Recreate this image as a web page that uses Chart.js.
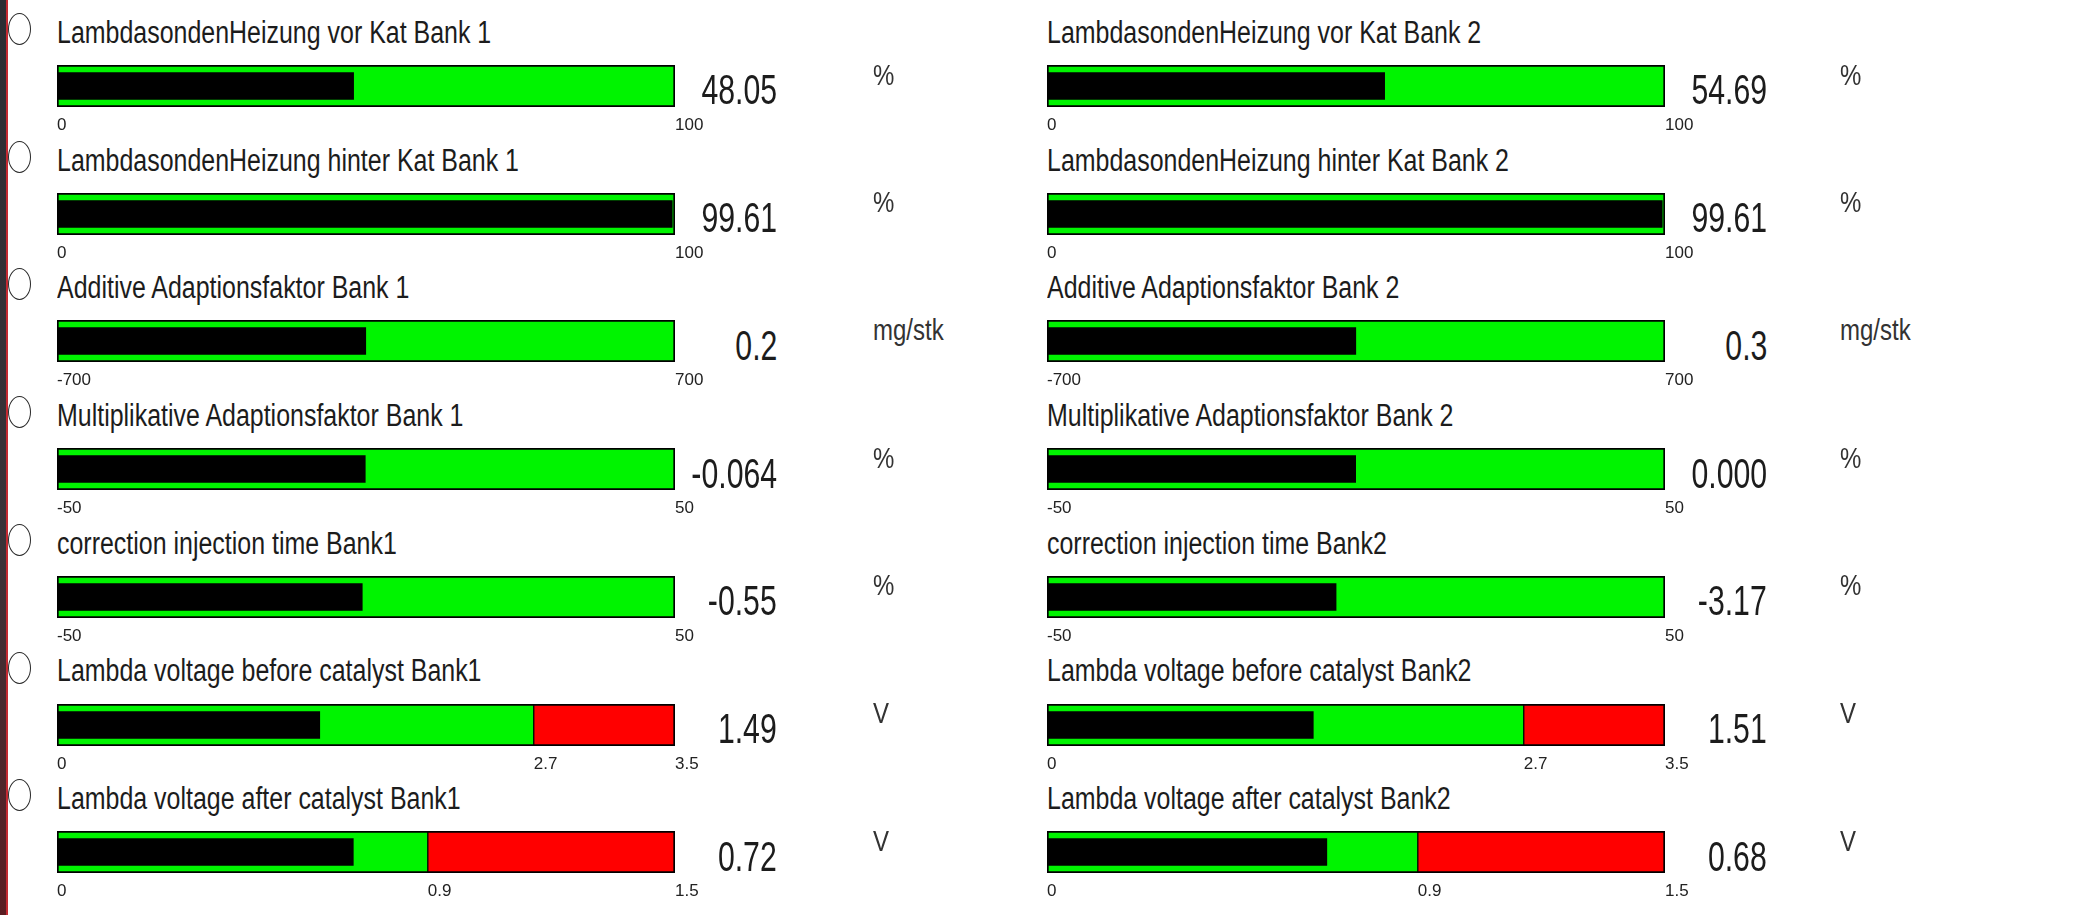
<!DOCTYPE html>
<html>
<head>
<meta charset="utf-8">
<script src="https://cdn.jsdelivr.net/npm/chart.js@4.4.1/dist/chart.umd.min.js"></script>
<style>
    body { margin: 0; width: 2091px; height: 915px; background: #fff; overflow: hidden; position: relative; font-family: "Liberation Sans", Arial, sans-serif; color: #1c1c1c; }
    .edge { position: absolute; left: 0; top: 0; width: 6px; height: 915px; background: linear-gradient(#2b2d33, #3a3238 60%, #5b1d22); }
    .edge-line { position: absolute; left: 6px; top: 0; width: 2px; height: 915px; background: #c32a32; }
    .radio { position: absolute; width: 21px; height: 30px; border: 1.5px solid #2a2a2a; border-radius: 50%; }
    .title, .value, .unit { position: absolute; white-space: nowrap; line-height: 1; z-index: 2; }
    .title { font-size: 31px; transform: scaleX(0.805); transform-origin: left center; }
    .value { font-size: 42px; transform: scaleX(0.72); transform-origin: right center; }
    .unit { font-size: 30px; color: #333; transform: scaleX(0.8); transform-origin: left center; }
    canvas { position: absolute; z-index: 1; }
</style>
</head>
<body>
<div class="edge"></div>
<div class="edge-line"></div>
<script>
const titlesBank1 = [
    "LambdasondenHeizung vor Kat Bank 1",
    "LambdasondenHeizung hinter Kat Bank 1",
    "Additive Adaptionsfaktor Bank 1",
    "Multiplikative Adaptionsfaktor Bank 1",
    "correction injection time Bank1",
    "Lambda voltage before catalyst Bank1",
    "Lambda voltage after catalyst Bank1"
];
const titlesBank2 = [
    "LambdasondenHeizung vor Kat Bank 2",
    "LambdasondenHeizung hinter Kat Bank 2",
    "Additive Adaptionsfaktor Bank 2",
    "Multiplikative Adaptionsfaktor Bank 2",
    "correction injection time Bank2",
    "Lambda voltage before catalyst Bank2",
    "Lambda voltage after catalyst Bank2"
];
const units = ["%", "%", "mg/stk", "%", "%", "V", "V"];
const scaleMin = [0, 0, -700, -50, -50, 0, 0];
const scaleMax = [100, 100, 700, 50, 50, 3.5, 1.5];
const warnFrom = [null, null, null, null, null, 2.7, 0.9];
const valuesBank1 = [48.05, 99.61, 0.2, -0.064, -0.55, 1.49, 0.72];
const valuesBank2 = [54.69, 99.61, 0.3, 0.000, -3.17, 1.51, 0.68];
const decimals = [2, 2, 1, 3, 2, 2, 2];

const FONT = '"Liberation Sans", Arial, sans-serif';
const ROW_PITCH = 127.7;
const BAR_W = 618, BAR_H = 42, TICK_H = 32, LABEL_ROOM = 45;
const GREEN = "#00f400", RED = "#ff0000";

const columns = [
    { left: 57, titles: titlesBank1, values: valuesBank1, valueRight: 777, unitLeft: 873, radio: true },
    { left: 1047, titles: titlesBank2, values: valuesBank2, valueRight: 1767, unitLeft: 1840, radio: false }
];

function addText(cls, text, css) {
    const el = document.createElement("div");
    el.className = cls;
    el.textContent = text;
    Object.assign(el.style, css);
    document.body.appendChild(el);
    return el;
}

function gauge(canvas, row, value) {
    const min = scaleMin[row], max = scaleMax[row], warn = warnFrom[row];
    const tickVals = warn === null ? [min, max] : [min, warn, max];
    const common = { categoryPercentage: 1, grouped: false, borderSkipped: false };
    const datasets = [
        { ...common, data: [[min, value]], backgroundColor: "#000", borderWidth: 0, barPercentage: 0.66, order: 0 },
        { ...common, data: [[min, warn ?? max]], backgroundColor: GREEN, borderColor: "#000",
          borderWidth: { left: 2, top: 2, bottom: 2, right: warn === null ? 2 : 1 }, barPercentage: 1, order: 1 }
    ];
    if (warn !== null) {
        datasets.push({ ...common, data: [[warn, max]], backgroundColor: RED, borderColor: "#000",
            borderWidth: { left: 1, top: 2, bottom: 2, right: 2 }, barPercentage: 1, order: 1 });
    }
    return new Chart(canvas, {
        type: "bar",
        data: { labels: [""], datasets },
        options: {
            indexAxis: "y",
            responsive: false,
            animation: false,
            events: [],
            layout: { padding: { left: 0, right: LABEL_ROOM, top: 0, bottom: 0 } },
            plugins: { legend: { display: false }, tooltip: { enabled: false } },
            scales: {
                y: { display: false },
                x: {
                    type: "linear", min, max,
                    grid: { display: false, drawTicks: false },
                    border: { display: false },
                    afterBuildTicks: s => { s.ticks = tickVals.map(v => ({ value: v })); },
                    afterFit: s => { s.paddingLeft = 0; s.paddingRight = 0; s.height = TICK_H; },
                    ticks: {
                        align: "start", autoSkip: false, maxRotation: 0, padding: 8,
                        color: "#222", font: { family: FONT, size: 17 },
                        callback: v => String(v)
                    }
                }
            }
        }
    });
}

columns.forEach(col => {
    col.titles.forEach((title, row) => {
        const barTop = 65 + row * ROW_PITCH;
        if (col.radio) {
            const r = document.createElement("div");
            r.className = "radio";
            Object.assign(r.style, { left: "8px", top: (barTop - 52) + "px" });
            document.body.appendChild(r);
        }
        addText("title", title, { left: col.left + "px", top: (barTop - 22 - 26.2) + "px" });
        const v = addText("value", col.values[row].toFixed(decimals[row]), { top: (barTop + 4.4) + "px" });
        v.style.left = (col.valueRight - v.offsetWidth) + "px";
        addText("unit", units[row], { left: col.unitLeft + "px", top: (barTop - 5.4) + "px" });

        const canvas = document.createElement("canvas");
        canvas.width = BAR_W + LABEL_ROOM;
        canvas.height = BAR_H + TICK_H;
        Object.assign(canvas.style, { left: col.left + "px", top: barTop + "px" });
        document.body.appendChild(canvas);
        gauge(canvas, row, col.values[row]);
    });
});
</script>
</body>
</html>
